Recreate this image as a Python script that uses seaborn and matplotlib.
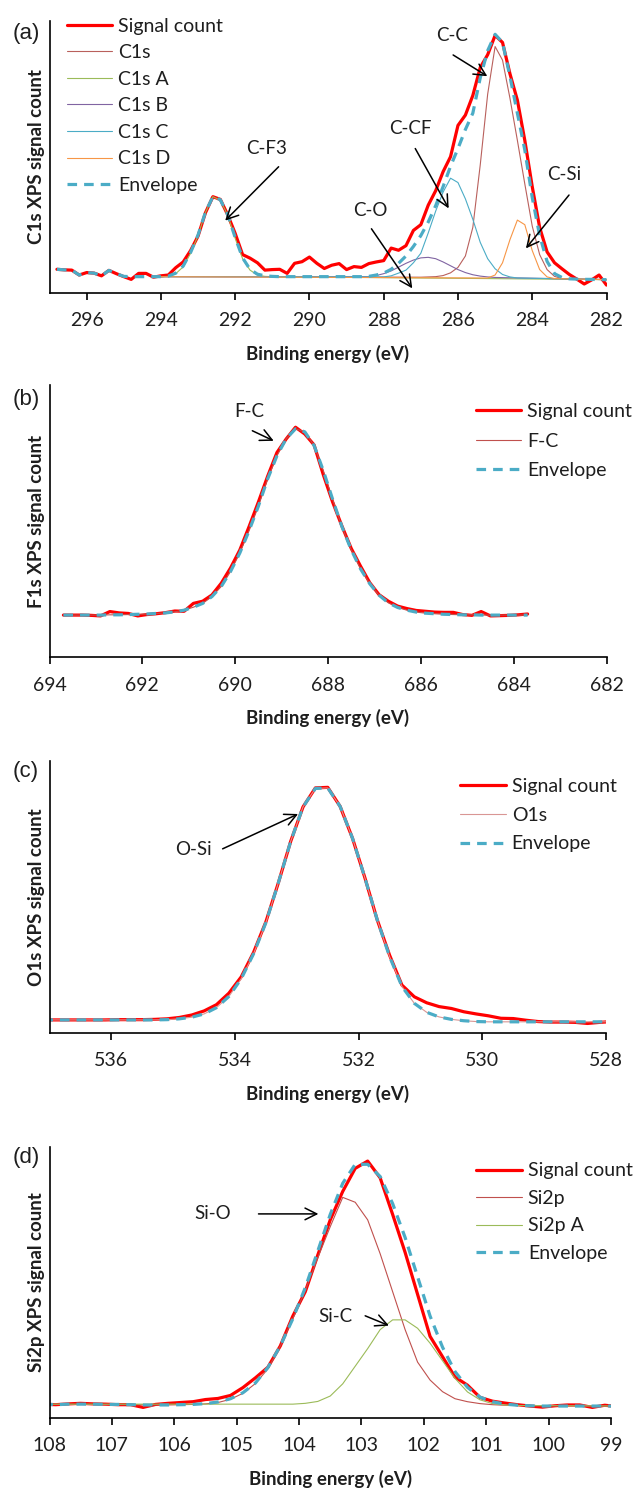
import matplotlib
matplotlib.use("Agg")
import matplotlib.pyplot as plt
import seaborn as sns

sns.set_theme(style="white")
plt.rcParams["font.family"] = ["Lato", "DejaVu Sans"]

# ---------------- (a) C1s ----------------
E_a = [296.8, 296.6, 296.4, 296.2, 296.0, 295.8, 295.6, 295.4, 295.2, 295.0,
       294.8, 294.6, 294.4, 294.2, 294.0, 293.8, 293.6, 293.4, 293.2, 293.0,
       292.8, 292.6, 292.4, 292.2, 292.0, 291.8, 291.6, 291.4, 291.2, 291.0,
       290.8, 290.6, 290.4, 290.2, 290.0, 289.8, 289.6, 289.4, 289.2, 289.0,
       288.8, 288.6, 288.4, 288.2, 288.0, 287.8, 287.6, 287.4, 287.2, 287.0,
       286.8, 286.6, 286.4, 286.2, 286.0, 285.8, 285.6, 285.4, 285.2, 285.0,
       284.8, 284.6, 284.4, 284.2, 284.0, 283.8, 283.6, 283.4, 283.2, 283.0,
       282.8, 282.6, 282.4, 282.2, 282.0]
signal_a = [8.6, 8.4, 8.3, 6.5, 7.4, 7.2, 6.2, 8.2, 7.0, 5.9,
            4.9, 7.1, 7.1, 5.7, 6.2, 6.5, 9.2, 11.3, 15.5, 20.8,
            29.4, 35.3, 34.3, 28.6, 21.8, 14.0, 12.7, 11.0, 8.3, 8.5,
            8.6, 7.1, 10.8, 11.4, 13.1, 10.8, 8.9, 10.1, 10.7, 8.5,
            9.6, 9.3, 10.7, 11.3, 11.8, 16.4, 15.6, 17.3, 22.9, 25.0,
            32.2, 37.5, 44.5, 50.0, 61.5, 65.3, 72.5, 82.8, 87.5, 94.6,
            92.0, 80.5, 70.8, 56.0, 39.0, 24.0, 15.0, 11.0, 8.8, 6.7,
            5.0, 3.2, 4.7, 6.5, 2.8]
envelope_a = [8.6, 8.4, 8.3, 6.5, 7.4, 7.2, 6.2, 8.2, 7.0, 6.0,
              5.9, 5.9, 5.9, 5.9, 5.9, 6.1, 7.2, 9.8, 14.8, 21.2,
              29.6, 35.3, 34.2, 28.6, 20.3, 12.8, 8.6, 6.8, 6.2, 6.0,
              5.9, 5.9, 5.9, 5.9, 5.9, 5.9, 5.9, 5.9, 5.9, 5.9,
              5.9, 5.9, 6.0, 6.5, 7.2, 8.6, 10.8, 13.5, 17.0, 21.0,
              26.0, 32.0, 39.0, 46.5, 53.0, 60.0, 66.0, 79.0, 89.0, 95.0,
              92.0, 79.5, 66.0, 52.5, 35.0, 21.0, 11.5, 7.0, 5.6, 5.1,
              5.0, 4.9, 4.9, 4.8, 4.8]
c1s_E = [294.0, 287.0, 286.6, 286.4, 286.2, 286.0, 285.8, 285.6, 285.4, 285.2, 285.0,
         284.8, 284.6, 284.4, 284.2, 284.0, 283.8, 283.6, 283.4, 283.2, 282.0]
c1s_y = [5.9, 5.7, 5.9, 6.3, 7.3, 9.3, 13.5, 24.0, 47.0, 73.0, 90.5,
         85.5, 71.5, 56.0, 40.0, 24.5, 14.0, 8.5, 6.0, 5.2, 4.8]
c1sA_E = [294.0, 293.8, 293.6, 293.4, 293.2, 293.0, 292.8, 292.6, 292.4, 292.2,
          292.0, 291.8, 291.6, 291.4, 291.2, 291.0, 282.0]
c1sA_y = [5.9, 6.0, 7.0, 9.5, 14.5, 21.0, 29.5, 35.3, 34.0, 28.5,
          20.0, 12.5, 8.3, 6.5, 6.0, 5.9, 4.8]
c1sB_E = [294.0, 288.4, 288.2, 288.0, 287.8, 287.6, 287.4, 287.2, 287.0, 286.8,
          286.6, 286.4, 286.2, 286.0, 285.8, 285.6, 285.4, 285.2, 285.0, 282.0]
c1sB_y = [5.9, 5.9, 6.3, 7.0, 8.0, 9.4, 10.8, 12.0, 12.8, 13.0,
          12.5, 11.3, 9.9, 8.5, 7.4, 6.6, 6.1, 5.8, 5.6, 4.8]
c1sC_E = [294.0, 288.0, 287.8, 287.6, 287.4, 287.2, 287.0, 286.8, 286.6, 286.4, 286.2,
          286.0, 285.8, 285.6, 285.4, 285.2, 285.0, 284.8, 284.6, 284.4, 282.0]
c1sC_y = [5.9, 5.8, 6.2, 7.2, 8.3, 11.0, 14.5, 22.0, 30.0, 37.0, 42.1,
          40.5, 34.5, 27.0, 18.5, 12.5, 8.8, 6.7, 5.8, 5.4, 4.8]
c1sD_E = [294.0, 285.2, 285.0, 284.8, 284.6, 284.4, 284.2, 284.0, 283.8, 283.6, 283.4, 282.0]
c1sD_y = [5.9, 5.4, 6.5, 11.0, 19.5, 26.7, 25.0, 15.5, 8.5, 5.8, 5.2, 4.8]
ticks_a = [296, 294, 292, 290, 288, 286, 284, 282]

# ---------------- (b) F1s ----------------
E_b = [693.7, 693.5, 693.3, 693.1, 692.9, 692.7, 692.5, 692.3, 692.1, 691.9,
       691.7, 691.5, 691.3, 691.1, 690.9, 690.7, 690.5, 690.3, 690.1, 689.9,
       689.7, 689.5, 689.3, 689.1, 688.9, 688.7, 688.5, 688.3, 688.1, 687.9,
       687.7, 687.5, 687.3, 687.1, 686.9, 686.7, 686.5, 686.3, 686.1, 685.9,
       685.7, 685.5, 685.3, 685.1, 684.9, 684.7, 684.5, 684.3, 684.1, 683.9,
       683.7]
signal_b = [15.5, 15.5, 15.5, 15.4, 15.2, 16.8, 16.3, 16.1, 15.2, 15.7,
            16.0, 16.4, 17.0, 16.9, 19.8, 20.6, 22.9, 27.2, 32.8, 39.4,
            48.0, 57.0, 66.5, 75.2, 80.2, 84.5, 82.0, 78.0, 67.0, 57.0,
            48.2, 40.0, 33.5, 27.4, 23.0, 20.6, 18.8, 17.9, 17.2, 16.9,
            16.6, 16.5, 16.5, 15.7, 15.4, 16.8, 15.2, 15.3, 15.4, 15.6,
            15.9]
fc_b = [15.5, 15.5, 15.5, 15.5, 15.5, 15.6, 15.6, 15.7, 15.8, 15.9,
        16.1, 16.3, 16.7, 17.3, 18.4, 19.8, 22.3, 26.0, 31.5, 38.3,
        46.5, 55.5, 65.5, 74.0, 80.3, 83.9, 82.8, 77.8, 68.5, 58.0,
        48.0, 39.5, 32.5, 27.0, 22.8, 20.0, 18.3, 17.3, 16.6, 16.2,
        16.0, 15.8, 15.7, 15.6, 15.6, 15.5, 15.5, 15.5, 15.5, 15.5,
        15.5]
envelope_b = [15.5, 15.5, 15.5, 15.5, 15.5, 15.6, 15.6, 15.7, 15.8, 15.9,
              16.1, 16.3, 16.7, 17.3, 18.4, 19.8, 22.3, 26.0, 31.5, 38.3,
              46.5, 55.5, 65.5, 74.0, 80.3, 83.9, 82.8, 77.8, 68.5, 58.0,
              48.0, 39.5, 32.5, 27.0, 22.8, 20.0, 18.3, 17.3, 16.6, 16.2,
              16.0, 15.8, 15.7, 15.6, 15.6, 15.5, 15.5, 15.5, 15.5, 15.5,
              15.5]
ticks_b = [694, 692, 690, 688, 686, 684, 682]

# ---------------- (c) O1s ----------------
E_c = [537.1, 536.9, 536.7, 536.5, 536.3, 536.1, 535.9, 535.7, 535.5, 535.3,
       535.1, 534.9, 534.7, 534.5, 534.3, 534.1, 533.9, 533.7, 533.5, 533.3,
       533.1, 532.9, 532.7, 532.5, 532.3, 532.1, 531.9, 531.7, 531.5, 531.3,
       531.1, 530.9, 530.7, 530.5, 530.3, 530.1, 529.9, 529.7, 529.5, 529.3,
       529.1, 528.9, 528.7, 528.5, 528.3, 528.1, 527.9]
signal_c = [4.7, 4.7, 4.7, 4.7, 4.7, 4.7, 4.8, 4.8, 4.8, 4.9,
            5.1, 5.6, 6.5, 8.0, 10.3, 14.5, 20.5, 29.5, 40.8, 55.0,
            70.3, 83.0, 90.0, 90.2, 83.2, 71.5, 57.0, 41.5, 28.5, 17.5,
            13.2, 11.0, 9.6, 8.9, 7.7, 6.9, 6.2, 5.3, 5.2, 4.6,
            4.1, 3.9, 3.9, 3.8, 3.4, 3.8, 4.1]
o1s_c = [4.7, 4.7, 4.7, 4.7, 4.7, 4.7, 4.7, 4.7, 4.7, 4.7,
         4.8, 5.1, 5.7, 6.9, 9.2, 13.3, 19.8, 29.0, 40.5, 55.0,
         70.3, 83.0, 89.8, 90.0, 83.2, 71.5, 57.0, 41.5, 28.0, 17.0,
         10.8, 7.5, 5.8, 4.9, 4.4, 4.1, 4.0, 4.0, 4.0, 4.0,
         4.0, 4.0, 4.0, 4.0, 4.0, 4.0, 4.0]
envelope_c = [4.7, 4.7, 4.7, 4.7, 4.7, 4.7, 4.7, 4.7, 4.7, 4.7,
              4.8, 5.1, 5.7, 6.9, 9.2, 13.3, 19.8, 29.0, 40.5, 55.0,
              70.3, 83.0, 89.8, 90.0, 83.2, 71.5, 57.0, 41.5, 28.0, 17.0,
              10.8, 7.5, 5.8, 4.9, 4.4, 4.1, 4.0, 4.0, 4.0, 4.0,
              4.0, 4.0, 4.0, 4.0, 4.0, 4.0, 4.0]
ticks_c = [536, 534, 532, 530, 528]

# ---------------- (d) Si2p ----------------
E_d = [108.1, 107.9, 107.7, 107.5, 107.3, 107.1, 106.9, 106.7, 106.5, 106.3,
       106.1, 105.9, 105.7, 105.5, 105.3, 105.1, 104.9, 104.7, 104.5, 104.3,
       104.1, 103.9, 103.7, 103.5, 103.3, 103.1, 102.9, 102.7, 102.5, 102.3,
       102.1, 101.9, 101.7, 101.5, 101.3, 101.1, 100.9, 100.7, 100.5, 100.3,
       100.1, 99.9, 99.7, 99.5, 99.3, 99.1, 98.9]
signal_d = [5.0, 4.8, 5.1, 5.3, 5.1, 5.0, 4.8, 4.8, 3.8, 4.9,
            5.3, 5.6, 5.9, 6.7, 7.1, 8.2, 11.1, 14.7, 18.6, 26.5,
            37.5, 46.5, 60.0, 73.0, 83.5, 92.0, 94.7, 88.5, 75.0, 61.0,
            45.5, 30.0, 22.5, 15.0, 12.0, 7.5, 6.1, 5.4, 4.8, 4.3,
            3.9, 4.4, 4.7, 4.7, 3.8, 4.6, 4.1]
envelope_d = [5.0, 4.8, 5.0, 5.0, 5.0, 4.9, 4.9, 4.8, 4.7, 4.7,
              4.7, 4.8, 4.9, 5.2, 5.8, 7.0, 9.2, 12.8, 18.5, 26.5,
              36.5, 48.0, 61.5, 75.0, 86.5, 93.5, 93.5, 89.0, 79.0, 66.5,
              52.0, 37.5, 26.0, 17.0, 11.2, 7.6, 5.9, 5.0, 4.6, 4.4,
              4.3, 4.3, 4.3, 4.3, 4.3, 4.3, 4.3]
si2p_E = [108.1, 106.1, 105.9, 105.7, 105.5, 105.3, 105.1, 104.9, 104.7, 104.5,
          104.3, 104.1, 103.9, 103.7, 103.5, 103.3, 103.1, 102.9, 102.7, 102.5,
          102.3, 102.1, 101.9, 101.7, 101.5, 101.3, 101.1, 100.9, 100.7, 100.5, 98.9]
si2p_y = [5.0, 4.7, 4.8, 4.9, 5.1, 5.6, 6.8, 9.0, 12.6, 18.0,
          26.5, 36.5, 47.0, 59.0, 70.5, 81.3, 79.5, 73.0, 60.5, 46.5,
          32.5, 20.5, 13.9, 9.6, 7.0, 5.9, 5.2, 4.8, 4.6, 4.5, 4.3]
si2pA_E = [108.1, 104.3, 104.1, 103.9, 103.7, 103.5, 103.3, 103.1, 102.9, 102.7,
           102.5, 102.3, 102.1, 101.9, 101.7, 101.5, 101.3, 101.1, 100.9, 100.7,
           100.5, 98.9]
si2pA_y = [5.0, 5.0, 5.0, 5.3, 6.0, 8.0, 12.5, 19.0, 25.5, 32.5,
           36.1, 36.1, 33.0, 27.5, 21.0, 14.5, 9.5, 6.6, 5.2, 4.7,
           4.5, 4.3]
ticks_d = [108, 107, 106, 105, 104, 103, 102, 101, 100, 99]

# ---------------- figure ----------------
W, H = 633, 1488
fig = plt.figure(figsize=(W / 100, H / 100), dpi=100)


def add_ax(left, right, top, bottom):
    return fig.add_axes([left / W, 1 - bottom / H, (right - left) / W, (bottom - top) / H])


RED = "#FF0000"
ENV = "#4BACC6"
TXT = "#1e1e1e"


def draw(ax, x, y, color, lw, label, dashed=False):
    sns.lineplot(x=x, y=y, ax=ax, color=color, linewidth=lw, label=label,
                 sort=False, estimator=None)
    ln = ax.lines[-1]
    ln.set_solid_joinstyle("round")
    if dashed:
        ln.set_dashes([3.0, 2.2])
        ln.set_dash_capstyle("butt")


def style(ax, xlim, ticks, ylabel):
    ax.set_xlim(*xlim)
    ax.set_ylim(0, 100)
    ax.set_xticks(ticks)
    ax.set_xticklabels([str(t) for t in ticks])
    ax.set_yticks([])
    for s in ["top", "right"]:
        ax.spines[s].set_visible(False)
    for s in ["left", "bottom"]:
        ax.spines[s].set_color("black")
        ax.spines[s].set_linewidth(1.2)
    ax.tick_params(axis="x", bottom=True, direction="out", length=5, width=1.2,
                   color="black", pad=9, labelsize=14, labelcolor=TXT)
    ax.set_xlabel("Binding energy (eV)", fontsize=13.5, fontweight="bold",
                  labelpad=11, color=TXT)
    ax.set_ylabel(ylabel, fontsize=13.5, fontweight="bold", labelpad=3, color=TXT)
    ax.set_facecolor("white")


def legend(ax, fx, fy, spacing):
    ax.legend(loc="upper left", bbox_to_anchor=(fx, fy), frameon=False, fontsize=14,
              handlelength=2.35, handletextpad=0.3, labelspacing=spacing,
              borderpad=0, borderaxespad=0, labelcolor=TXT)


def note(ax, text, txy, tail, head):
    ax.text(txy[0], txy[1], text, fontsize=13.5, color=TXT, ha="center", va="center")
    ax.annotate("", xy=head, xytext=tail,
                arrowprops=dict(arrowstyle="->,head_length=0.6,head_width=0.3",
                                color="black", lw=1.1, shrinkA=0, shrinkB=0,
                                mutation_scale=14))


# (a)
ax_a = add_ax(49.5, 606.5, 20.7, 292.7)
draw(ax_a, E_a, signal_a, RED, 2.3, "Signal count")
draw(ax_a, c1s_E, c1s_y, "#B9605C", 0.8, "C1s")
draw(ax_a, c1sA_E, c1sA_y, "#9BBB59", 0.8, "C1s A")
draw(ax_a, c1sB_E, c1sB_y, "#8064A2", 0.8, "C1s B")
draw(ax_a, c1sC_E, c1sC_y, "#4BACC6", 0.8, "C1s C")
draw(ax_a, c1sD_E, c1sD_y, "#F79646", 0.8, "C1s D")
draw(ax_a, E_a, envelope_a, ENV, 2.3, "Envelope", dashed=True)
style(ax_a, (297, 282), ticks_a, "C1s XPS signal count")
legend(ax_a, 0.031, 1.011, 0.49)
note(ax_a, "C-F3", (291.16, 53.1), (290.83, 46.3), (292.27, 26.5))
note(ax_a, "C-O", (288.35, 30.4), (288.33, 23.5), (287.23, 1.6))
note(ax_a, "C-CF", (287.29, 60.4), (287.15, 53.0), (286.25, 31.0))
note(ax_a, "C-C", (286.16, 94.7), (286.13, 87.4), (285.21, 79.6))
note(ax_a, "C-Si", (283.13, 43.3), (283.01, 35.9), (284.17, 16.3))

# (b)
ax_b = add_ax(49.5, 606.5, 385, 657.3)
draw(ax_b, E_b, signal_b, RED, 2.3, "Signal count")
draw(ax_b, E_b, fc_b, "#C0504D", 0.8, "F-C")
draw(ax_b, E_b, envelope_b, ENV, 2.3, "Envelope", dashed=True)
style(ax_b, (694, 682), ticks_b, "F1s XPS signal count")
legend(ax_b, 0.765, 0.934, 0.65)
note(ax_b, "F-C", (689.69, 90.2), (689.63, 83.2), (689.17, 79.5))

# (c)
ax_c = add_ax(49.5, 606.0, 760.7, 1032.7)
draw(ax_c, E_c, signal_c, RED, 2.3, "Signal count")
draw(ax_c, E_c, o1s_c, "#D99694", 0.8, "O1s")
draw(ax_c, E_c, envelope_c, ENV, 2.3, "Envelope", dashed=True)
style(ax_c, (537, 528), ticks_c, "O1s XPS signal count")
legend(ax_c, 0.738, 0.936, 0.60)
note(ax_c, "O-Si", (534.68, 67.2), (534.2, 67.6), (532.98, 80.4))

# (d)
ax_d = add_ax(49.5, 611, 1146.7, 1417.7)
draw(ax_d, E_d, signal_d, RED, 2.3, "Signal count")
draw(ax_d, si2p_E, si2p_y, "#C0504D", 0.8, "Si2p")
draw(ax_d, si2pA_E, si2pA_y, "#9BBB59", 0.8, "Si2p A")
draw(ax_d, E_d, envelope_d, ENV, 2.3, "Envelope", dashed=True)
style(ax_d, (108, 99), ticks_d, "Si2p XPS signal count")
legend(ax_d, 0.76, 0.942, 0.54)
note(ax_d, "Si-O", (105.38, 75.4), (104.65, 75.2), (103.69, 75.2))
note(ax_d, "Si-C", (103.42, 37.3), (102.94, 37.6), (102.56, 34.0))

# panel letters
for lab, yc in [("(a)", 34), ("(b)", 399), ("(c)", 772), ("(d)", 1158)]:
    fig.text(26 / W, 1 - yc / H, lab, family=["Liberation Sans", "DejaVu Sans"],
             fontsize=16, ha="center", va="center", color=TXT)

fig.savefig("out.png", dpi=100, facecolor="white")
